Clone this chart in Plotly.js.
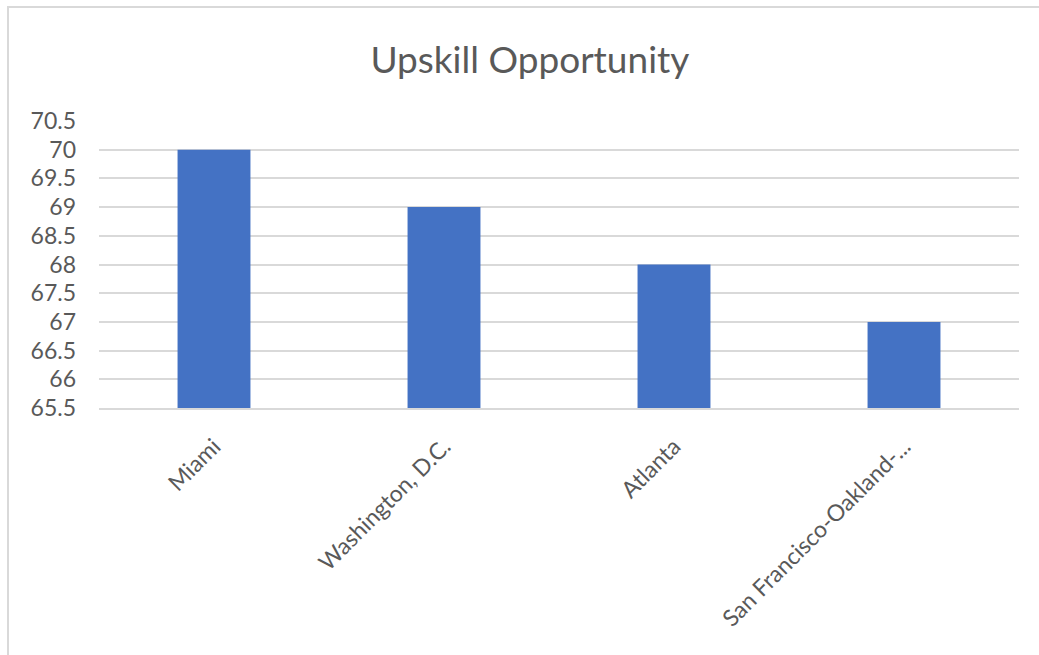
<!DOCTYPE html>
<html>
<head>
<meta charset="utf-8">
<script src="https://cdn.plot.ly/plotly-3.0.1.min.js"></script>
<style>
  html, body { margin: 0; padding: 0; background: #fff; }
  #wrap { position: relative; width: 1039px; height: 655px; }
  #chart { position: absolute; left: 0; top: 0; width: 1039px; height: 655px; }
  #frame { position: absolute; left: 7px; top: 6px; width: 1040px; height: 648px;
           border-left: 2px solid #d9d9d9; border-top: 2px solid #d9d9d9; pointer-events: none; }
</style>
</head>
<body>
<div id="wrap">
  <div id="chart"></div>
  <div id="frame"></div>
</div>
<script>
const categories = ["Miami", "Washington, D.C.", "Atlanta", "San Francisco-Oakland-..."];
const values = [70, 69, 68, 67];
const yTicks = [65.5, 66, 66.5, 67, 67.5, 68, 68.5, 69, 69.5, 70, 70.5];
const chartTitle = "Upskill Opportunity";

const fontFam = "Lato, 'Open Sans', sans-serif";
const trace = {
  type: "bar",
  x: categories,
  y: values,
  marker: { color: "#4472C4" },
  hoverinfo: "x+y"
};
const layout = {
  width: 1039, height: 655,
  margin: { l: 99, r: 20, t: 121, b: 247 },
  paper_bgcolor: "rgba(0,0,0,0)",
  plot_bgcolor: "rgba(0,0,0,0)",
  bargap: 0.683,
  showlegend: false,
  title: {
    text: chartTitle,
    font: { family: fontFam, size: 37, color: "#595959" },
    x: 0.51, xanchor: "center",
    y: 0.908, yanchor: "middle"
  },
  xaxis: {
    type: "category",
    tickangle: -45,
    tickfont: { family: fontFam, size: 23, color: "#595959" },
    showline: true, linecolor: "#d9d9d9", linewidth: 2,
    showgrid: false, zeroline: false,
    ticks: "", ticklabelstandoff: 14
  },
  yaxis: {
    range: [65.5, 70.5],
    tickvals: yTicks,
    ticktext: yTicks.map(String),
    tickfont: { family: fontFam, size: 23, color: "#595959" },
    showgrid: true, gridcolor: "#d9d9d9", gridwidth: 2,
    zeroline: false, showline: false,
    ticks: "", ticklabelstandoff: 22
  }
};
Plotly.newPlot("chart", [trace], layout, { displayModeBar: false, staticPlot: true });
</script>
</body>
</html>
